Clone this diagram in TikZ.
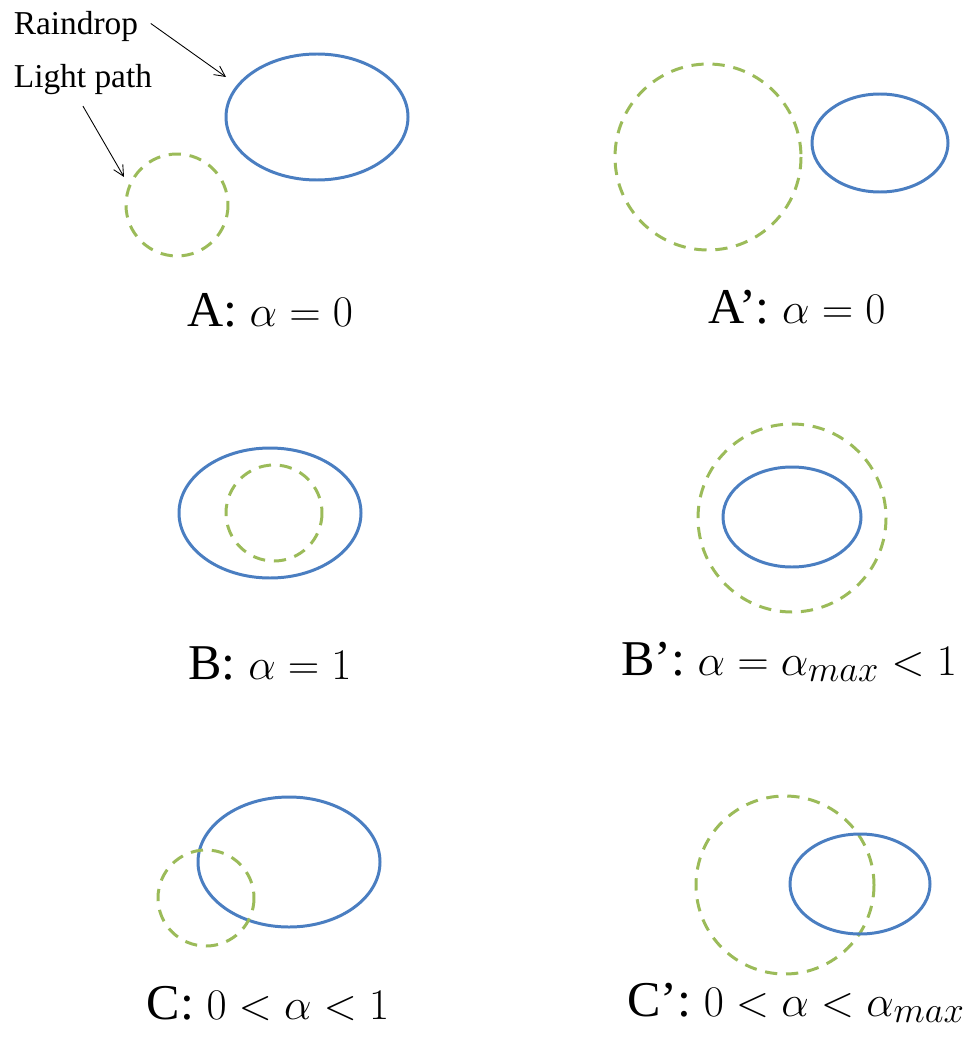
\documentclass[tikz,border=0pt]{standalone}
\usepackage{fontspec}
\setmainfont{Liberation Serif}
\usepackage{xcolor}
\definecolor{dropblue}{RGB}{74,126,193}
\definecolor{pathgreen}{RGB}{155,187,89}
\usetikzlibrary{arrows.meta}

\tikzset{
  drop/.style={draw=dropblue, line width=1.7pt},
  lightpath/.style={draw=pathgreen, line width=1.7pt, dash pattern=on 7pt off 5pt},
  caselabel/.style={font=\fontsize{28.5}{32}\selectfont},
  tag/.style={font=\fontsize{19}{22}\selectfont, anchor=base west, inner sep=2pt},
  pointer/.style={-{Straight Barb[length=6pt,width=6pt]}, line width=0.5pt}
}

\begin{document}
\begin{tikzpicture}[x=0.02cm, y=-0.02cm]
  \useasboundingbox (0,0) rectangle (978,1037);

  % A
  \draw[drop] (317,117) ellipse [x radius=91, y radius=63];
  \draw[lightpath] (177,205) circle [radius=51];
  \node[caselabel] (labA) at (270,310) {A: $\alpha = 0$};
  \node[tag] (raindrop) at (10,35) {Raindrop};
  \node[tag] (light) at (10,88) {Light path};
  \coordinate (dropTip) at (226,77);
  \coordinate (lightTip) at (124,177);
  \draw[pointer] ([xshift=5pt,yshift=2pt]raindrop.east) -- (dropTip);
  \draw[pointer] ([yshift=-4pt]light.south) -- (lightTip);

  % A'
  \draw[lightpath] (708,157) circle [radius=93];
  \draw[drop] (880,143) ellipse [x radius=68, y radius=49];
  \node[caselabel] (labAp) at (797,307) {A': $\alpha = 0$};

  % B
  \draw[drop] (270,513) ellipse [x radius=91, y radius=65];
  \draw[lightpath] (274,513) circle [radius=48];
  \node[caselabel] (labB) at (270,663) {B: $\alpha = 1$};

  % B'
  \draw[lightpath] (792,518) circle [radius=94];
  \draw[drop] (792,517) ellipse [x radius=69, y radius=50];
  \node[caselabel] (labBp) at (789,662) {B': $\alpha = \alpha_{max} < 1$};

  % C
  \draw[drop] (289,862) ellipse [x radius=91, y radius=65];
  \draw[lightpath] (206,898) circle [radius=48];
  \node[caselabel] (labC) at (268,1003) {C: $0 < \alpha < 1$};

  % C'
  \draw[lightpath] (785,885) circle [radius=89];
  \draw[drop] (860,884) ellipse [x radius=70, y radius=50];
  \node[caselabel] (labCp) at (796,1003) {C': $0 < \alpha < \alpha_{max}$};
\end{tikzpicture}
\end{document}
